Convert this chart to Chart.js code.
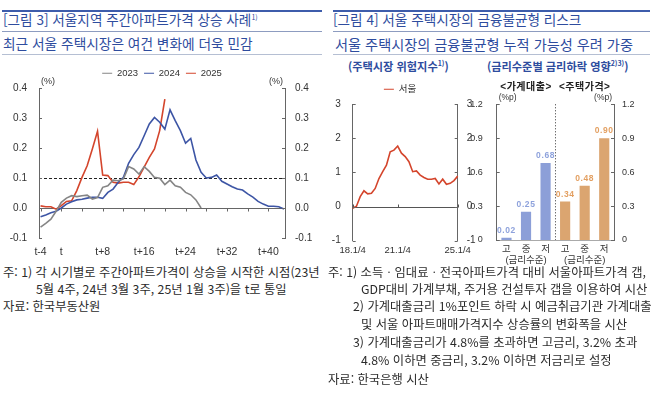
<!DOCTYPE html>
<html lang="ko">
<head>
<meta charset="utf-8">
<script src="https://cdn.jsdelivr.net/npm/chart.js@4.4.1/dist/chart.umd.min.js"></script>
<style>
  html, body { margin: 0; padding: 0; background: #fff; }
  #page { position: relative; width: 670px; height: 393px; overflow: hidden; font-family: 'Noto Sans CJK KR', sans-serif; }
  .rule { position: absolute; }
  .txt { position: absolute; white-space: nowrap; line-height: 1; }
  .title { color: #2e4c9e; font-size: 13.6px; }
  .sub { color: #2e4c9e; font-size: 13.7px; }
  .panel { color: #2e4c9e; font-size: 11.2px; font-weight: bold; }
  .note { color: #2b2b2b; font-size: 12.3px; }
  .box { position: absolute; }
  sup { font-size: 7px; vertical-align: 5px; line-height: 0; }
</style>
</head>
<body>
<div id="page">
  <!-- left panel header -->
  <div class="rule" style="left:2px;top:10px;width:320px;height:2px;background:#3d5cab"></div>
  <div class="txt title" style="left:3px;top:13px">[그림 3] 서울지역 주간아파트가격 상승 사례<sup>1)</sup></div>
  <div class="rule" style="left:2px;top:31px;width:320px;height:1px;background:#8d9cc0"></div>
  <div class="txt sub" style="left:3px;top:37px">최근 서울 주택시장은 여건 변화에 더욱 민감</div>
  <div class="rule" style="left:2px;top:54px;width:320px;height:1px;background:#b5bfd3"></div>

  <!-- right panel header -->
  <div class="rule" style="left:333px;top:10px;width:317px;height:2px;background:#3d5cab"></div>
  <div class="txt title" style="left:333px;top:13px">[그림 4] 서울 주택시장의 금융불균형 리스크</div>
  <div class="rule" style="left:333px;top:31px;width:317px;height:1px;background:#8d9cc0"></div>
  <div class="txt sub" style="left:335px;top:37px;font-size:14.2px">서울 주택시장의 금융불균형 누적 가능성 우려 가중</div>
  <div class="rule" style="left:333px;top:54px;width:317px;height:1px;background:#b5bfd3"></div>

  <div class="txt panel" style="left:348px;top:61px">(주택시장 위험지수<sup>1)</sup>)</div>
  <div class="txt panel" style="left:487px;top:61px">(금리수준별 금리하락 영향<sup>2)3)</sup>)</div>

  <div class="box" style="left:0;top:62px;width:324px;height:200px"><canvas id="weekly"></canvas></div>
  <div class="box" style="left:320px;top:78px;width:160px;height:182px"><canvas id="risk"></canvas></div>
  <div class="box" style="left:462px;top:80px;width:208px;height:190px"><canvas id="rate"></canvas></div>

  <!-- notes -->
  <div class="txt note" style="left:3px;top:266px">주: 1) 각 시기별로 주간아파트가격이 상승을 시작한 시점(23년</div>
  <div class="txt note" style="left:36px;top:283px">5월 4주, 24년 3월 3주, 25년 1월 3주)을 t로 통일</div>
  <div class="txt note" style="left:3px;top:300px">자료: 한국부동산원</div>

  <div class="txt note" style="left:328px;top:266px">주: 1) 소득ㆍ임대료ㆍ전국아파트가격 대비 서울아파트가격 갭,</div>
  <div class="txt note" style="left:361px;top:283px">GDP대비 가계부채, 주거용 건설투자 갭을 이용하여 시산</div>
  <div class="txt note" style="left:353px;top:300px">2) 가계대출금리 1%포인트 하락 시 예금취급기관 가계대출</div>
  <div class="txt note" style="left:361px;top:318px">및 서울 아파트매매가격지수 상승률의 변화폭을 시산</div>
  <div class="txt note" style="left:353px;top:336px">3) 가계대출금리가 4.8%를 초과하면 고금리, 3.2% 초과</div>
  <div class="txt note" style="left:361px;top:354px">4.8% 이하면 중금리, 3.2% 이하면 저금리로 설정</div>
  <div class="txt note" style="left:328px;top:373px">자료: 한국은행 시산</div>
</div>

<script>
// ---- data: weekly apartment price change (%), by weeks from start t ----
const weeks = Array.from({ length: 48 }, (_, i) => i - 4);   // t-4 ... t+43
const tickWeeks = [-4, 0, 4, 8, 12, 16, 20, 24, 28, 32, 36, 40];
const labelWeeks = [-4, 0, 8, 16, 24, 32, 40];
const threshold = 0.1;

const seoul2023 = [-0.064, -0.051, -0.037, -0.011, 0.019, 0.033, 0.041, 0.038, 0.041, 0.043,
  0.030, 0.035, 0.069, 0.074, 0.093, 0.091, 0.097, 0.138, 0.130, 0.113,
  0.138, 0.122, 0.102, 0.099, 0.078, 0.093, 0.074, 0.069, 0.052, 0.044,
  0.027, 0.000];
const seoul2024 = [-0.029, -0.023, -0.016, -0.011, 0.000, 0.013, 0.021, 0.027, 0.029, 0.033,
  0.036, 0.036, 0.032, 0.052, 0.063, 0.086, 0.102, 0.149, 0.178, 0.202,
  0.241, 0.280, 0.302, 0.286, 0.263, 0.327, 0.291, 0.258, 0.216, 0.232,
  0.160, 0.119, 0.100, 0.102, 0.110, 0.089, 0.080, 0.071, 0.063, 0.060,
  0.047, 0.036, 0.022, 0.013, 0.006, 0.006, 0.004, -0.003];
const seoul2025 = [0.007, 0.004, 0.004, -0.004, 0.008, 0.022, 0.024, 0.058, 0.102, 0.141,
  0.197, 0.256, 0.110, 0.108, 0.086, 0.083, 0.086, 0.086, 0.078, 0.104,
  0.136, 0.169, 0.197, 0.258, 0.363];

// ---- data: housing market risk index (quarterly) ----
const quarters = [];
for (let y = 18; y <= 25; y++) {
  for (let q = 1; q <= 4; q++) {
    quarters.push(`${y}.${q}/4`);
    if (y === 25) break;
  }
}
const shownQuarters = ['18.1/4', '21.1/4', '25.1/4'];
const riskIndex = [-0.05, 0.01, 0.29, 0.46, 0.37, 0.39, 0.53, 0.82, 1.02, 1.21,
  1.60, 1.65, 1.77, 1.56, 1.46, 1.31, 1.02, 1.04, 0.92, 0.85,
  0.80, 0.80, 0.82, 0.66, 0.80, 0.65, 0.68, 0.76, 0.89];

// ---- data: effect of 1%p rate cut by rate level (%p) ----
const rateLevels = ['고', '중', '저'];
const groups = ['<가계대출>', '<주택가격>'];
const loanEffect = [0.02, 0.25, 0.68];
const priceEffect = [0.34, 0.48, 0.90];

const AXIS = '#666';
const TICK = '#333';
const FONT = "'Liberation Sans', 'Noto Sans CJK KR', sans-serif";
const BLUE_BAR = '#8c9fd8', ORANGE_BAR = '#dba570';
const BLUE_TXT = '#8ea2dc', ORANGE_TXT = '#e3a062';

Chart.defaults.font.family = FONT;
Chart.defaults.color = TICK;
Chart.defaults.animation = false;

function drawInwardTicks(chart, len) {
  const { ctx, chartArea } = chart;
  ctx.save();
  ctx.strokeStyle = AXIS;
  ctx.lineWidth = 1;
  Object.values(chart.scales).forEach(s => {
    if (s.axis !== 'y') return;
    const left = s.position === 'left';
    const x = left ? chartArea.left : chartArea.right;
    s.ticks.forEach((t, i) => {
      const y = Math.round(s.getPixelForTick(i)) + 0.5;
      ctx.beginPath();
      ctx.moveTo(x, y);
      ctx.lineTo(left ? x + len : x - len, y);
      ctx.stroke();
    });
  });
  ctx.restore();
}

function unitLabels(chart, text, size) {
  const { ctx, chartArea: a } = chart;
  ctx.save();
  ctx.font = `${size}px ${FONT}`;
  ctx.fillStyle = TICK;
  ctx.textBaseline = 'bottom';
  ctx.textAlign = 'left';
  ctx.fillText(text, a.left + 2, a.top - 2);
  ctx.textAlign = 'right';
  ctx.fillText(text, a.right - 2, a.top - 2);
  ctx.restore();
}

const legendOpts = {
  position: 'top',
  labels: {
    usePointStyle: true,
    pointStyle: 'line',
    pointStyleWidth: 10,
    padding: 6,
    color: TICK,
    font: { size: 9.5 }
  }
};

function yAxis(pos, min, max, step, pad, width, fmt, size) {
  return {
    position: pos,
    min: min,
    max: max,
    ticks: { stepSize: step, padding: pad, color: TICK, font: { size: size }, callback: fmt },
    grid: { display: false, drawTicks: false },
    border: { display: true, color: AXIS, width: 1 },
    afterFit: s => { s.width = width; }
  };
}

// ---------- chart 1: weekly price change ----------
const weeklyDecor = {
  id: 'weeklyDecor',
  beforeDatasetsDraw(chart) {
    const { ctx, chartArea: a, scales: { x, y } } = chart;
    ctx.save();
    ctx.lineWidth = 1;
    ctx.strokeStyle = AXIS;
    const y0 = Math.round(y.getPixelForValue(0)) + 0.5;
    ctx.beginPath(); ctx.moveTo(a.left, y0); ctx.lineTo(a.right, y0); ctx.stroke();
    x.ticks.forEach(t => {
      const px = Math.round(x.getPixelForValue(t.value)) + 0.5;
      ctx.beginPath(); ctx.moveTo(px, y0); ctx.lineTo(px, y0 + 3); ctx.stroke();
    });
    const y1 = Math.round(y.getPixelForValue(threshold)) + 0.5;
    ctx.strokeStyle = '#222';
    ctx.setLineDash([3, 2]);
    ctx.beginPath(); ctx.moveTo(a.left, y1); ctx.lineTo(a.right, y1); ctx.stroke();
    ctx.restore();
  },
  afterDraw(chart) {
    drawInwardTicks(chart, 3);
    unitLabels(chart, '(%)', 9);
  }
};

const fmt1 = v => (Math.abs(v) < 1e-9 ? 0 : v).toFixed(1);
const toPoints = arr => arr.map((v, i) => ({ x: weeks[i], y: v }));

new Chart(document.getElementById('weekly'), {
  type: 'line',
  data: {
    datasets: [
      { label: '2023', data: toPoints(seoul2023), borderColor: '#858585', backgroundColor: '#858585' },
      { label: '2024', data: toPoints(seoul2024), borderColor: '#3d55a5', backgroundColor: '#3d55a5' },
      { label: '2025', data: toPoints(seoul2025), borderColor: '#d4452c', backgroundColor: '#d4452c' }
    ]
  },
  options: {
    responsive: true,
    maintainAspectRatio: false,
    layout: { padding: { top: 0.5 } },
    elements: { point: { radius: 0 }, line: { borderWidth: 1.6, tension: 0 } },
    plugins: { legend: legendOpts, tooltip: { enabled: false } },
    scales: {
      x: {
        type: 'linear',
        min: -4.3,
        max: 43.2,
        afterBuildTicks: s => { s.ticks = tickWeeks.map(v => ({ value: v })); },
        ticks: {
          autoSkip: false,
          maxRotation: 0,
          padding: 8,
          color: TICK,
          font: { size: 10.5 },
          callback: v => labelWeeks.includes(v) ? (v === 0 ? 't' : (v < 0 ? 't' + v : 't+' + v)) : ''
        },
        grid: { display: false, drawTicks: false },
        border: { display: false },
        afterFit: s => { s.height = 24; }
      },
      y: yAxis('left', -0.1, 0.4, 0.1, 12, 39, fmt1, 10),
      y2: yAxis('right', -0.1, 0.4, 0.1, 10, 39, fmt1, 10)
    }
  },
  plugins: [weeklyDecor]
});

// ---------- chart 2: risk index ----------
const riskDecor = {
  id: 'riskDecor',
  beforeDatasetsDraw(chart) {
    const { ctx, chartArea: a, scales: { x, y } } = chart;
    ctx.save();
    ctx.lineWidth = 1;
    ctx.strokeStyle = '#555';
    const y0 = Math.round(y.getPixelForValue(0)) + 0.5;
    ctx.beginPath(); ctx.moveTo(a.left, y0); ctx.lineTo(a.right, y0); ctx.stroke();
    shownQuarters.forEach(q => {
      const px = Math.round(x.getPixelForValue(quarters.indexOf(q))) + 0.5;
      ctx.beginPath(); ctx.moveTo(px, y0); ctx.lineTo(px, y0 - 3); ctx.stroke();
    });
    ctx.restore();
  },
  afterDraw(chart) { drawInwardTicks(chart, 3); }
};

new Chart(document.getElementById('risk'), {
  type: 'line',
  data: {
    labels: quarters,
    datasets: [
      { label: '서울', data: riskIndex, borderColor: '#d4452c', backgroundColor: '#d4452c' }
    ]
  },
  options: {
    responsive: true,
    maintainAspectRatio: false,
    layout: { padding: { top: 0.5 } },
    elements: { point: { radius: 0 }, line: { borderWidth: 1.6, tension: 0 } },
    plugins: { legend: legendOpts, tooltip: { enabled: false } },
    scales: {
      x: {
        ticks: {
          autoSkip: false,
          maxRotation: 0,
          minRotation: 0,
          padding: 4,
          color: TICK,
          font: { size: 9.5 },
          callback: (v, i) => shownQuarters.includes(quarters[i]) ? quarters[i] : ''
        },
        grid: { display: false, drawTicks: false },
        border: { display: false },
        afterFit: s => { s.height = 19.3; }
      },
      y: yAxis('left', -1, 3, 1, 12, 32.7, v => v, 10),
      y2: yAxis('right', -1, 3, 1, 9, 22.3, v => v, 10)
    }
  },
  plugins: [riskDecor]
});

// ---------- chart 3: rate-cut effect bars ----------
const rateValues = loanEffect.concat(priceEffect);
const rateDecor = {
  id: 'rateDecor',
  afterDatasetsDraw(chart) {
    const { ctx, chartArea: a, scales: { x } } = chart;
    const meta = chart.getDatasetMeta(0);
    ctx.save();
    // value labels
    ctx.font = `bold 8.5px ${FONT}`;
    ctx.letterSpacing = '0.6px';
    ctx.textAlign = 'center';
    ctx.textBaseline = 'bottom';
    meta.data.forEach((bar, i) => {
      ctx.fillStyle = i < loanEffect.length ? BLUE_TXT : ORANGE_TXT;
      ctx.fillText(rateValues[i].toFixed(2), bar.x, bar.y - 3);
    });
    // dotted separator between the two groups
    const sep = Math.round((x.getPixelForValue(2) + x.getPixelForValue(3)) / 2) + 0.5;
    ctx.strokeStyle = '#333';
    ctx.lineWidth = 1;
    ctx.setLineDash([1, 2]);
    ctx.beginPath(); ctx.moveTo(sep, a.top); ctx.lineTo(sep, a.bottom); ctx.stroke();
    ctx.setLineDash([]);
    // group headers and axis caption
    groups.forEach((g, gi) => {
      const cx = (x.getPixelForValue(gi * 3) + x.getPixelForValue(gi * 3 + 2)) / 2;
      ctx.textBaseline = 'middle';
      ctx.fillStyle = '#222';
      ctx.font = `bold 10px ${FONT}`;
      ctx.letterSpacing = '0.5px';
      ctx.fillText(g, cx, 7.5);
      ctx.fillStyle = TICK;
      ctx.font = `9.5px ${FONT}`;
      ctx.letterSpacing = '0px';
      ctx.fillText('(금리수준)', cx, a.bottom + 20.5);
    });
    ctx.restore();
  },
  afterDraw(chart) {
    drawInwardTicks(chart, 3);
    unitLabels(chart, '(%p)', 8.5);
  }
};

const fmtBar = v => (Math.abs(v) < 1e-9 ? '0' : v.toFixed(1));

new Chart(document.getElementById('rate'), {
  type: 'bar',
  data: {
    labels: rateLevels.concat(rateLevels),
    datasets: [{
      data: rateValues,
      backgroundColor: rateValues.map((v, i) => i < loanEffect.length ? BLUE_BAR : ORANGE_BAR),
      barPercentage: 0.52,
      categoryPercentage: 1
    }]
  },
  options: {
    responsive: true,
    maintainAspectRatio: false,
    layout: { padding: { top: 24.3 } },
    plugins: { legend: { display: false }, tooltip: { enabled: false } },
    scales: {
      x: {
        ticks: { padding: 4, color: TICK, font: { size: 9.5 } },
        grid: { display: false, drawTicks: false },
        border: { display: true, color: '#aaa' },
        afterFit: s => { s.height = 30; }
      },
      y: yAxis('left', 0, 1.2, 0.3, 14, 34.7, fmtBar, 9),
      y2: yAxis('right', 0, 1.2, 0.3, 8, 56, fmtBar, 9)
    }
  },
  plugins: [rateDecor]
});
</script>
</body>
</html>
